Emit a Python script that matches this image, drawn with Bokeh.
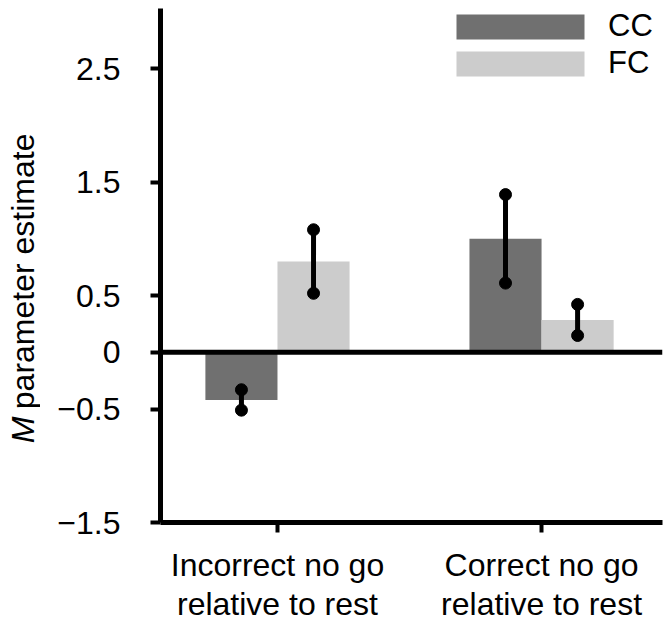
import math
from bokeh.plotting import figure
from bokeh.layouts import row
from bokeh.models import (ColumnDataSource, Range1d, FixedTicker, Span, Label,
                          Legend, LegendItem)
from bokeh.embed import file_html
from bokeh.resources import INLINE

# ---- data ----
groups = ["Incorrect no go\nrelative to rest", "Correct no go\nrelative to rest"]
group_pos = [1, 2]
series = ["CC", "FC"]
cc_mean = [-0.42, 1.00]
cc_err = [0.09, 0.39]
fc_mean = [0.80, 0.285]
fc_err = [0.28, 0.137]
y_ticks = [-1.5, -0.5, 0, 0.5, 1.5, 2.5]
y_tick_labels = ["\u22121.5", "\u22120.5", "0", "0.5", "1.5", "2.5"]
y_title_italic = "M"
y_title_rest = "parameter estimate"

CC_COLOR = "#707070"
FC_COLOR = "#cccccc"
FONT = "Liberation Sans"
FS = "32px"

TITLE_W = 40
W, H = 671, 626

bar_w = 0.273
off = bar_w / 2

def make_src(means, errs, shift):
    xs = [g + shift for g in group_pos]
    return ColumnDataSource(dict(
        x=xs, top=means,
        lo=[m - e for m, e in zip(means, errs)],
        hi=[m + e for m, e in zip(means, errs)],
    ))

cc_src = make_src(cc_mean, cc_err, -off)
fc_src = make_src(fc_mean, fc_err, off)

p = figure(width=W - TITLE_W, height=H, output_backend="svg",
           toolbar_location=None,
           x_range=Range1d(0.557, 2.458), y_range=Range1d(-1.5, 3.03),
           min_border_left=160 - TITLE_W, min_border_right=9, min_border_top=8,
           min_border_bottom=104)
p.outline_line_color = None
p.xgrid.visible = False
p.ygrid.visible = False
p.background_fill_color = "white"
p.border_fill_color = "white"

cc_r = p.vbar(x="x", top="top", bottom=0, width=bar_w, source=cc_src,
              fill_color=CC_COLOR, line_color=None)
fc_r = p.vbar(x="x", top="top", bottom=0, width=bar_w, source=fc_src,
              fill_color=FC_COLOR, line_color=None)

for src in (cc_src, fc_src):
    p.segment(x0="x", y0="lo", x1="x", y1="hi", source=src,
              line_color="black", line_width=5)
    p.scatter(x="x", y="lo", source=src, size=12, color="black")
    p.scatter(x="x", y="hi", source=src, size=12, color="black")

p.add_layout(Span(location=0, dimension="width", line_color="black",
                  line_width=5))

# axes
for ax in (p.xaxis[0], p.yaxis[0]):
    ax.axis_line_width = 5
    ax.axis_line_color = "black"
    ax.major_tick_line_width = 4
    ax.major_tick_line_color = "black"
    ax.major_tick_out = 10
    ax.major_tick_in = 0
    ax.minor_tick_line_color = None
    ax.major_label_text_font = FONT
    ax.major_label_text_font_size = FS
    ax.major_label_text_color = "black"

p.yaxis.ticker = FixedTicker(ticks=y_ticks)
p.yaxis.major_label_overrides = {t: l for t, l in zip(y_ticks, y_tick_labels)}
p.yaxis.major_label_standoff = 30

p.xaxis.ticker = FixedTicker(ticks=group_pos)
p.xaxis.major_label_overrides = {g: l for g, l in zip(group_pos, groups)}
p.xaxis.major_label_standoff = 14
p.xaxis.major_label_text_line_height = 1.09

legend = Legend(items=[LegendItem(label=series[0], renderers=[cc_r]),
                       LegendItem(label=series[1], renderers=[fc_r])],
                location=(280, 441), orientation="vertical",
                glyph_width=160, glyph_height=31, label_standoff=8,
                spacing=1, padding=0, margin=0,
                border_line_color=None, background_fill_alpha=0,
                label_text_font=FONT, label_text_font_size="31px",
                label_text_color="black")
p.add_layout(legend)

# narrow strip (no axes) holding the y-axis title: italic M + upright rest
t = figure(width=TITLE_W, height=H, output_backend="svg",
           toolbar_location=None, x_axis_type=None, y_axis_type=None,
           x_range=Range1d(0, TITLE_W), y_range=Range1d(0, H),
           min_border_left=0, min_border_right=0, min_border_top=0,
           min_border_bottom=0)
t.grid.visible = False
t.outline_line_color = None
t.background_fill_color = "white"
t.border_fill_color = "white"
t.add_layout(Label(x=22, y=129, text=y_title_italic, angle=math.pi / 2,
                   text_align="right", text_baseline="middle",
                   text_font=FONT, text_font_size=FS,
                   text_font_style="italic", text_color="black"))
t.add_layout(Label(x=22, y=138, text=y_title_rest, angle=math.pi / 2,
                   text_align="left", text_baseline="middle",
                   text_font=FONT, text_font_size=FS, text_color="black"))

layout = row(t, p, spacing=0)
open("out.html", "w").write(file_html(layout, INLINE))
